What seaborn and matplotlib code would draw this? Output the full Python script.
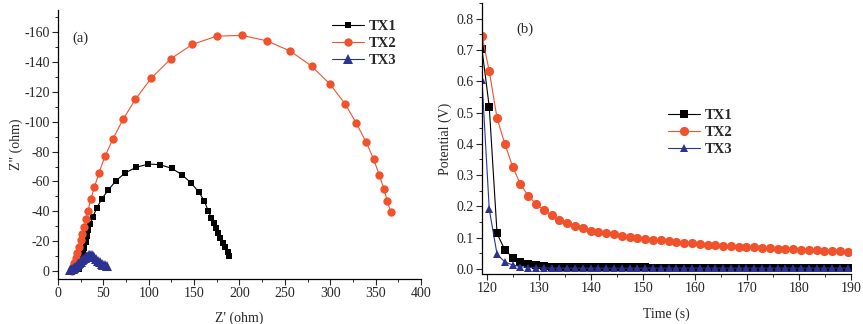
import numpy as np
import pandas as pd
import matplotlib
matplotlib.use('Agg')
import matplotlib.pyplot as plt
from matplotlib.ticker import MultipleLocator
import seaborn as sns

# ---- panel (a): Nyquist plot, Z' vs Z'' (ohm) ----
tx1_zre = [23.2, 24.6, 26.1, 27.6, 29.0, 30.5, 32.0, 33.5, 35.7, 38.6, 42.6,
           48.2, 55.5, 63.6, 73.9, 86.0, 99.6, 112.1, 125.4, 136.4, 146.7,
           155.5, 161.4, 165.4, 169.1, 172.1, 174.6, 176.8, 179.0, 181.6,
           184.2, 186.8, 188.6]
tx1_zim = [-1.6, -4.5, -8.0, -11.8, -15.6, -19.7, -23.5, -27.5, -31.5, -36.4,
           -42.0, -48.3, -54.3, -60.3, -65.7, -69.5, -71.7, -71.3, -68.8,
           -64.6, -59.0, -52.7, -46.7, -40.4, -35.3, -32.0, -28.6, -25.3,
           -21.9, -18.8, -15.9, -13.0, -10.3]

tx2_zre = [15.4, 16.5, 18.0, 19.5, 21.3, 23.2, 25.0, 26.8, 28.7, 30.9, 33.1,
           36.0, 40.1, 45.2, 51.8, 60.7, 71.7, 85.3, 102.6, 124.3, 148.2,
           175.0, 202.6, 229.8, 255.9, 279.4, 299.6, 316.2, 328.7, 339.3,
           347.8, 354.0, 359.2, 362.9, 366.5]
tx2_zim = [-0.2, -2.2, -5.1, -8.5, -12.3, -16.3, -20.8, -24.6, -29.3, -34.6,
           -40.4, -48.0, -56.1, -65.9, -76.9, -88.7, -101.7, -115.1, -129.2,
           -142.3, -152.0, -157.5, -158.0, -154.4, -147.5, -137.4, -125.4,
           -112.2, -99.2, -86.7, -75.1, -64.4, -55.0, -46.9, -39.8]

tx3_zre = [13.0, 14.5, 16.0, 17.5, 19.0, 20.5, 22.0, 23.5, 25.0, 26.5, 28.0,
           29.5, 31.0, 32.5, 34.0, 35.5, 37.0, 38.5, 40.0, 42.0, 44.0, 46.0,
           48.0, 50.0, 52.0, 54.0]
tx3_zim = [-0.5, -1.0, -1.6, -2.2, -2.9, -3.6, -4.4, -5.2, -6.1, -7.0, -7.9,
           -8.8, -9.6, -10.3, -10.8, -11.0, -10.8, -10.2, -9.3, -8.0, -6.8,
           -5.7, -4.9, -4.3, -3.8, -3.4]

# ---- panel (b): potential decay vs time ----
time_s = [119.0, 120.4, 121.9, 123.4, 124.9, 126.4, 127.9, 129.4,
          130.9, 132.4, 133.9, 135.4, 136.9, 138.4, 139.9, 141.4,
          142.9, 144.4, 145.9, 147.4, 148.9, 150.4, 151.9, 153.4,
          154.9, 156.4, 157.9, 159.4, 160.9, 162.4, 163.9, 165.4,
          166.9, 168.4, 169.9, 171.4, 172.9, 174.4, 175.9, 177.4,
          178.9, 180.4, 181.9, 183.4, 184.9, 186.4, 187.9, 189.4]
tx1_pot = [0.702, 0.518, 0.114, 0.061, 0.037, 0.024, 0.017, 0.012,
           0.009, 0.008, 0.007, 0.007, 0.006, 0.006, 0.006, 0.006,
           0.006, 0.006, 0.006, 0.006, 0.006, 0.006, 0.005, 0.005,
           0.005, 0.005, 0.005, 0.005, 0.005, 0.005, 0.005, 0.005,
           0.005, 0.005, 0.005, 0.005, 0.005, 0.005, 0.005, 0.005,
           0.005, 0.005, 0.005, 0.005, 0.005, 0.005, 0.005, 0.005]
tx2_pot = [0.745, 0.632, 0.482, 0.400, 0.327, 0.271, 0.234, 0.208,
           0.188, 0.172, 0.158, 0.148, 0.138, 0.130, 0.123, 0.119,
           0.115, 0.111, 0.106, 0.103, 0.099, 0.096, 0.094, 0.092,
           0.089, 0.086, 0.084, 0.082, 0.080, 0.078, 0.076, 0.075,
           0.073, 0.071, 0.070, 0.069, 0.068, 0.066, 0.065, 0.064,
           0.063, 0.062, 0.061, 0.060, 0.059, 0.058, 0.057, 0.055]
tx3_pot = [0.603, 0.191, 0.047, 0.023, 0.013, 0.008, 0.005, 0.004,
           0.004, 0.003, 0.003, 0.003, 0.003, 0.003, 0.003, 0.003,
           0.003, 0.003, 0.003, 0.003, 0.003, 0.003, 0.003, 0.003,
           0.003, 0.003, 0.003, 0.003, 0.003, 0.003, 0.003, 0.003,
           0.003, 0.003, 0.003, 0.003, 0.003, 0.003, 0.003, 0.003,
           0.003, 0.003, 0.003, 0.003, 0.003, 0.003, 0.003, 0.003]

names = ['TX1', 'TX2', 'TX3']
colors = {'TX1': '#000000', 'TX2': '#f0522b', 'TX3': '#2b3290'}
markers = {'TX1': 's', 'TX2': 'o', 'TX3': '^'}
# marker sizes per panel (pt)
msize_a = {'TX1': 5.0, 'TX2': 6.0, 'TX3': 6.5}
msize_b = {'TX1': 5.2, 'TX2': 6.6, 'TX3': 6.2}

sns.set_style('ticks')
plt.rcParams['font.family'] = ['Liberation Serif', 'DejaVu Serif']
plt.rcParams['axes.unicode_minus'] = False
plt.rcParams['xtick.direction'] = 'out'
plt.rcParams['ytick.direction'] = 'out'

fig = plt.figure(figsize=(8.63, 3.24), dpi=100)
ax1 = fig.add_axes([0.0672, 0.139, 0.4206, 0.830])
ax2 = fig.add_axes([0.5585, 0.154, 0.4275, 0.837])

nyq = {'TX1': (tx1_zre, tx1_zim), 'TX2': (tx2_zre, tx2_zim), 'TX3': (tx3_zre, tx3_zim)}
dec = {'TX1': tx1_pot, 'TX2': tx2_pot, 'TX3': tx3_pot}

for n in names:
    df = pd.DataFrame({'x': nyq[n][0], 'y': nyq[n][1]})
    sns.lineplot(data=df, x='x', y='y', ax=ax1, sort=False, color=colors[n],
                 marker=markers[n], markersize=msize_a[n], markeredgewidth=0,
                 linewidth=0.8, label=n)
    df2 = pd.DataFrame({'t': time_s, 'v': dec[n]})
    sns.lineplot(data=df2, x='t', y='v', ax=ax2, sort=False, color=colors[n],
                 marker=markers[n], markersize=msize_b[n], markeredgewidth=0,
                 linewidth=0.8, label=n)

# panel (a) axes
ax1.set_xlim(0, 400)
ax1.set_ylim(5.4, -175)
ax1.xaxis.set_major_locator(MultipleLocator(50))
ax1.xaxis.set_minor_locator(MultipleLocator(25))
ax1.yaxis.set_major_locator(MultipleLocator(20))
ax1.yaxis.set_minor_locator(MultipleLocator(10))
ax1.set_xlabel("Z' (ohm)", fontsize=10, labelpad=8)
ax1.set_ylabel('Z" (ohm)', fontsize=10, labelpad=1)
ax1.text(25, -156, '(a)', fontsize=10.5, ha='center', va='center')

# panel (b) axes
ax2.set_xlim(119, 190)
ax2.set_ylim(-0.016, 0.85)
ax2.xaxis.set_major_locator(MultipleLocator(10))
ax2.xaxis.set_minor_locator(MultipleLocator(5))
ax2.yaxis.set_major_locator(MultipleLocator(0.1))
ax2.yaxis.set_minor_locator(MultipleLocator(0.05))
ax2.yaxis.set_major_formatter(plt.FormatStrFormatter('%.1f'))
ax2.set_xlabel('Time (s)', fontsize=10, labelpad=9)
ax2.set_ylabel('Potential (V)', fontsize=10, labelpad=3)
ax2.text(127.2, 0.766, '(b)', fontsize=10.5, ha='center', va='center')

for ax in (ax1, ax2):
    sns.despine(ax=ax)
    ax.tick_params(which='major', length=4, width=0.8, labelsize=10, pad=2)
    ax.tick_params(which='minor', length=2.2, width=0.7)
    for sp in ax.spines.values():
        sp.set_linewidth(0.9)
        sp.set_color('black')

leg_kw = dict(frameon=False, loc='upper left', borderaxespad=0, borderpad=0,
              handlelength=2.2, handletextpad=0.3, labelspacing=0.25,
              prop={'weight': 'bold', 'size': 10.5})
ax1.legend(bbox_to_anchor=(0.755, 0.963), **leg_kw)
ax2.legend(bbox_to_anchor=(0.504, 0.609), **leg_kw)

fig.savefig('out.png', dpi=100)
